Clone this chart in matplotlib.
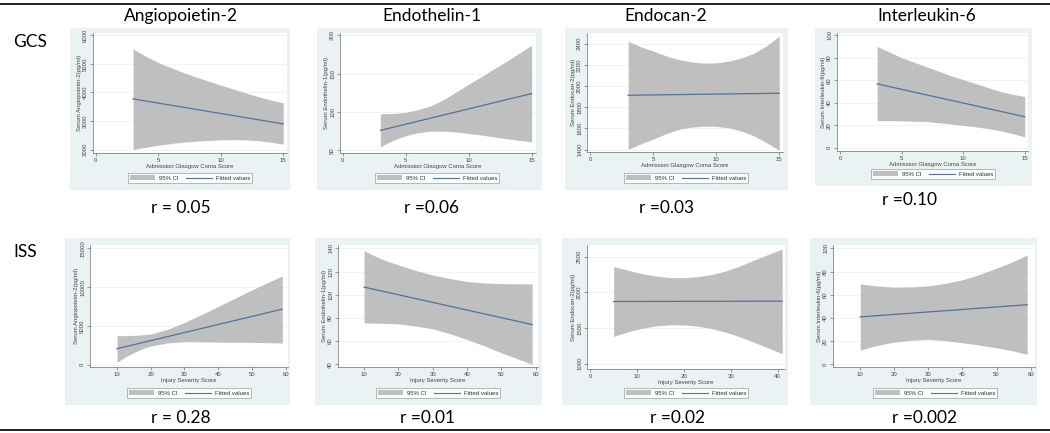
import matplotlib
matplotlib.use('Agg')
import matplotlib.pyplot as plt
from matplotlib.patches import Rectangle, Patch
from matplotlib.lines import Line2D

W, H = 1050, 433

# column / row labels
markers = ['Angiopoietin-2', 'Endothelin-1', 'Endocan-2', 'Interleukin-6']
rows = ['GCS', 'ISS']
r_gcs = ['r = 0.05', 'r =0.06', 'r =0.03', 'r =0.10']
r_iss = ['r = 0.28', 'r =0.01', 'r =0.02', 'r =0.002']
ylabels = ['Serum Angiopoietin-2(pg/ml)', 'Serum Endothelin-1(pg/ml)',
           'Serum Endocan-2(pg/ml)', 'Serum Interleukin-6(pg/ml)']
xlabel_gcs = 'Admission Glasgow Coma Score'
xlabel_iss = 'Injury Severity Score'

# GCS row
gcs_x = [3, 4, 5, 6, 7, 8, 9, 10, 11, 12, 13, 14, 15]
gcs_fit_x = [3, 15]
ang_gcs_fit = [3773, 2898]
ang_gcs_hi = [5520, 5270, 5050, 4870, 4700, 4545, 4400, 4255, 4120, 3985, 3850, 3735, 3630]
ang_gcs_lo = [2000, 2080, 2150, 2210, 2260, 2295, 2320, 2340, 2350, 2340, 2310, 2260, 2190]
end_gcs_fit = [76, 124]
end_gcs_hi = [97.5, 98, 99.5, 103, 108, 116, 126, 136, 146, 156, 166, 176.5, 187]
end_gcs_lo = [54.5, 63, 69, 73, 75, 75, 74, 72, 70, 67.5, 65, 63, 61]
edc_gcs_fit = [1913, 1932]
edc_gcs_hi = [2422, 2370, 2330, 2285, 2250, 2228, 2216, 2218, 2235, 2265, 2310, 2380, 2470]
edc_gcs_lo = [1403, 1455, 1500, 1550, 1590, 1612, 1622, 1620, 1605, 1575, 1530, 1465, 1394]
il6_gcs_fit = [56.7, 27.5]
il6_gcs_hi = [90, 85, 80, 76, 72, 68, 64, 60.5, 57, 53.5, 50, 47.5, 45.5]
il6_gcs_lo = [24, 24, 23.8, 23.5, 23.2, 22.2, 21, 19.8, 18.5, 17, 15, 12.5, 9.6]

# ISS row
iss_x = [10, 12.5, 15, 17.5, 20, 25, 30, 35, 40, 45, 50, 55, 59]
iss_fit_x = [10, 59]
ang_iss_fit = [2057, 7157]
ang_iss_hi = [3730, 3750, 3780, 3850, 3950, 4550, 5440, 6450, 7500, 8570, 9640, 10650, 11440]
ang_iss_lo = [300, 1000, 1550, 2050, 2400, 2800, 2960, 2950, 2910, 2890, 2870, 2830, 2790]
end_iss_fit = [106.6, 74.3]
end_iss_hi = [138, 134.3, 131, 128.2, 125.7, 121, 117, 114, 111.4, 110.2, 109.6, 109.4, 109.4]
end_iss_lo = [75.7, 75.6, 75.4, 75.2, 74.9, 73, 70.6, 66.5, 61.4, 56, 50, 44.5, 40]
edc_iss_x = [5, 8, 11, 14, 17, 20, 23, 26, 29, 32, 35, 38, 41]
edc_iss_fit_x = [5, 41]
edc_iss_fit = [1871, 1876]
edc_iss_hi = [2360, 2310, 2262, 2228, 2206, 2205, 2220, 2250, 2300, 2370, 2453, 2530, 2607]
edc_iss_lo = [1382, 1445, 1495, 1528, 1545, 1543, 1525, 1490, 1440, 1375, 1298, 1220, 1140]
il6_iss_fit = [40.9, 51.4]
il6_iss_hi = [69.4, 68.4, 67.6, 67.0, 66.6, 66.8, 67.7, 69.8, 72.9, 77.5, 82.9, 88.8, 94.3]
il6_iss_lo = [12.3, 14.4, 16.2, 17.8, 19.1, 20.8, 21.4, 20.5, 18.6, 16.6, 14.3, 11.5, 8.6]

panels = [
    # row 0
    dict(x=gcs_x, fx=gcs_fit_x, fit=ang_gcs_fit, lo=ang_gcs_lo, hi=ang_gcs_hi, yt=[2000, 3000, 4000, 5000, 6000],
         xt=[0, 5, 10, 15], xl=(-0.2, 15.3), yl=(1880, 6080), bg=(70, 28, 290, 190),
         ax=(93, 33, 287, 153), leg=(190, 178), xlab=xlabel_gcs, ylab=ylabels[0]),
    dict(x=gcs_x, fx=gcs_fit_x, fit=end_gcs_fit, lo=end_gcs_lo, hi=end_gcs_hi, yt=[50, 100, 150, 200],
         xt=[0, 5, 10, 15], xl=(-0.2, 15.35), yl=(46.5, 203), bg=(317, 28, 542, 190),
         ax=(340, 33, 536, 153), leg=(437, 178), xlab=xlabel_gcs, ylab=ylabels[1]),
    dict(x=gcs_x, fx=gcs_fit_x, fit=edc_gcs_fit, lo=edc_gcs_lo, hi=edc_gcs_hi,
         yt=[1400, 1600, 1800, 2000, 2200, 2400],
         xt=[0, 5, 10, 15], xl=(-0.27, 15.3), yl=(1378, 2500), bg=(565, 28, 788, 190),
         ax=(587, 33, 783, 152), leg=(686, 178), xlab=xlabel_gcs, ylab=ylabels[2]),
    dict(x=gcs_x, fx=gcs_fit_x, fit=il6_gcs_fit, lo=il6_gcs_lo, hi=il6_gcs_hi, yt=[0, 20, 40, 60, 80, 100],
         xt=[0, 5, 10, 15], xl=(-0.27, 15.27), yl=(-3, 102), bg=(815, 28, 1032, 186),
         ax=(837, 33, 1028, 151), leg=(933, 174), xlab=xlabel_gcs, ylab=ylabels[3]),
    # row 1
    dict(x=iss_x, fx=iss_fit_x, fit=ang_iss_fit, lo=ang_iss_lo, hi=ang_iss_hi, yt=[0, 5000, 10000, 15000],
         xt=[10, 20, 30, 40, 50, 60], xl=(2, 60.7), yl=(-300, 15430), bg=(65, 238, 290, 405),
         ax=(90, 245, 288, 367), leg=(189, 393), xlab=xlabel_iss, ylab=ylabels[0]),
    dict(x=iss_x, fx=iss_fit_x, fit=end_iss_fit, lo=end_iss_lo, hi=end_iss_hi, yt=[40, 60, 80, 100, 120, 140],
         xt=[10, 20, 30, 40, 50, 60], xl=(2.4, 60.7), yl=(37.7, 142.9), bg=(315, 238, 542, 405),
         ax=(338, 245, 538, 367), leg=(438, 393), xlab=xlabel_iss, ylab=ylabels[1]),
    dict(x=edc_iss_x, fx=edc_iss_fit_x, fit=edc_iss_fit, lo=edc_iss_lo, hi=edc_iss_hi,
         yt=[1000, 1500, 2000, 2500],
         xt=[0, 10, 20, 30, 40], xl=(-0.7, 41.6), yl=(925, 2663), bg=(562, 238, 788, 405),
         ax=(587, 245, 785, 369), leg=(686, 393), xlab=xlabel_iss, ylab=ylabels[2]),
    dict(x=iss_x, fx=iss_fit_x, fit=il6_iss_fit, lo=il6_iss_lo, hi=il6_iss_hi, yt=[0, 20, 40, 60, 80, 100],
         xt=[10, 20, 30, 40, 50, 60], xl=(2, 61.3), yl=(-2.3, 102.9), bg=(810, 238, 1037, 405),
         ax=(833, 245, 1035, 367), leg=(935, 393), xlab=xlabel_iss, ylab=ylabels[3]),
]

BG = '#eaf2f3'
BAND = '#bfbfbf'
LINE = '#52719c'
AXC = '#6e6e6e'
SMALL = 4.3


def fx(x):
    return x / W


def fy(y):
    return 1 - y / H


fig = plt.figure(figsize=(W / 100, H / 100), dpi=100)

# horizontal rules top and bottom
fig.add_artist(Line2D([0, 1], [fy(4), fy(4)], color='#222222', lw=1.4))
fig.add_artist(Line2D([0, 1], [fy(430), fy(430)], color='#222222', lw=1.4))

HEAD = ['Lato', 'DejaVu Sans']
HS = 12.5
head_x = [181, 432, 666, 927]
for name, hx in zip(markers, head_x):
    fig.text(fx(hx), fy(16), name, ha='center', va='center', fontsize=HS, family=HEAD)
fig.text(fx(13), fy(42), rows[0], ha='left', va='center', fontsize=HS, family=HEAD)
fig.text(fx(13), fy(252), rows[1], ha='left', va='center', fontsize=HS, family=HEAD)

r_pos_gcs = [(181, 208), (432, 208), (667, 208), (910, 200)]
r_pos_iss = [(181, 418), (428, 418), (677, 418), (924, 418)]
for lab, (rx, ry) in zip(r_gcs, r_pos_gcs):
    fig.text(fx(rx), fy(ry), lab, ha='center', va='center', fontsize=HS, family=HEAD)
for lab, (rx, ry) in zip(r_iss, r_pos_iss):
    fig.text(fx(rx), fy(ry), lab, ha='center', va='center', fontsize=HS, family=HEAD)

for p in panels:
    x0, y0, x1, y1 = p['bg']
    fig.add_artist(Rectangle((fx(x0), fy(y1)), fx(x1 - x0), (y1 - y0) / H,
                             transform=fig.transFigure, facecolor=BG, edgecolor='none', zorder=0))
    a0, b0, a1, b1 = p['ax']
    ax = fig.add_axes([fx(a0), fy(b1), fx(a1 - a0), (b1 - b0) / H])
    ax.set_facecolor('white')
    ax.fill_between(p['x'], p['lo'], p['hi'], color=BAND, lw=0, zorder=2)
    ax.plot(p['fx'], p['fit'], color=LINE, lw=0.9, zorder=3)
    ax.set_xlim(*p['xl'])
    ax.set_ylim(*p['yl'])
    ax.set_xticks(p['xt'])
    ax.set_yticks(p['yt'])
    ax.set_yticklabels([str(v) for v in p['yt']], rotation=90, va='center')
    ax.grid(axis='y', color='#eeeeee', lw=0.5, zorder=1)
    ax.set_axisbelow(True)
    for s in ['top', 'right']:
        ax.spines[s].set_visible(False)
    for s in ['left', 'bottom']:
        ax.spines[s].set_color(AXC)
        ax.spines[s].set_linewidth(0.5)
    ax.tick_params(labelsize=SMALL, length=2, width=0.5, pad=1.5, colors=AXC, labelcolor='#444444')
    ax.set_xlabel(p['xlab'], fontsize=SMALL, labelpad=1, color='#444444', family='Liberation Sans')
    ax.set_ylabel(p['ylab'], fontsize=SMALL, labelpad=1, color='#444444', family='Liberation Sans')
    for t in ax.get_xticklabels() + ax.get_yticklabels():
        t.set_family('Liberation Sans')

    handles = [Patch(facecolor=BAND, edgecolor='none'), Line2D([], [], color=LINE, lw=0.8)]
    lx, ly = p['leg']
    leg = ax.legend(handles, ['95% CI', 'Fitted values'], ncol=2, loc='center',
                    bbox_to_anchor=(fx(lx), fy(ly)), bbox_transform=fig.transFigure,
                    frameon=True, fancybox=False, handlelength=4.2,
                    handleheight=0.9, columnspacing=1.3, borderpad=0.35, handletextpad=0.7,
                    prop={'family': 'Liberation Sans', 'size': SMALL})
    leg.get_frame().set_edgecolor('#888888')
    leg.get_frame().set_linewidth(0.5)
    for t in leg.get_texts():
        t.set_color('#333333')

fig.savefig('out.png', dpi=100)
